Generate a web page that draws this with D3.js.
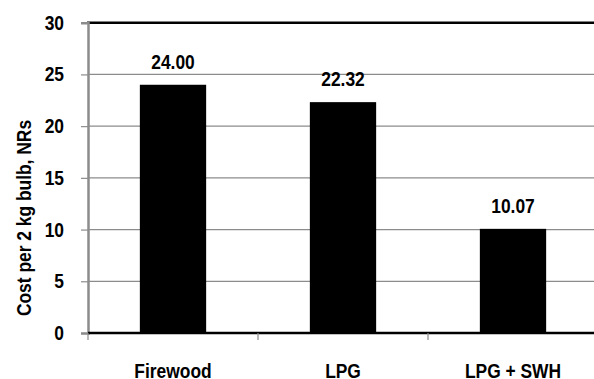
<!DOCTYPE html>
<html><head><meta charset="utf-8">
<script src="https://cdn.jsdelivr.net/npm/d3@7"></script>
<style>body{margin:0;background:#fff}svg{display:block}text{font-family:"Liberation Sans Narrow","Arial Narrow","Liberation Sans",Arial,sans-serif;font-weight:bold;fill:#000}</style>
</head><body><svg id="c" width="594" height="379"></svg>
<script>
const categories = ["Firewood", "LPG", "LPG + SWH"];
const values = [24.00, 22.32, 10.07];
const valueLabels = ["24.00", "22.32", "10.07"];
const yTicks = [0, 5, 10, 15, 20, 25, 30];
const yTitle = "Cost per 2 kg bulb, NRs";

const svg = d3.select("#c");
const L = 88, R = 598, T = 22.7, B = 333;
const SX = 0.87, FS = 20;
const x = d3.scaleBand().domain(categories).range([L, R]).paddingInner(0.61).paddingOuter(0.305);
const xb = d3.scaleBand().domain(categories).range([L, R]);
const y = d3.scaleLinear().domain([0, 30]).range([B, T]);

function label(g, tx, ty, str, anchor, rot) {
  return g.append("text")
    .attr("transform", `translate(${tx},${ty})` + (rot ? ` rotate(${rot})` : "") + ` scale(${SX},1)`)
    .attr("text-anchor", anchor).attr("font-size", FS).text(str);
}

// gridlines
svg.append("g").selectAll("line").data(yTicks.filter(d => d > 0 && d < 30)).join("line")
  .attr("x1", L).attr("x2", 594).attr("y1", d => y(d)).attr("y2", d => y(d))
  .attr("stroke", "#8c8c8c").attr("stroke-width", 1.2);
// top border
svg.append("line").attr("x1", L - 1).attr("x2", 594).attr("y1", y(30)).attr("y2", y(30)).attr("stroke", "#000").attr("stroke-width", 2.5);

// bars
svg.append("g").selectAll("rect").data(values).join("rect")
  .attr("x", (d, i) => x(categories[i])).attr("width", x.bandwidth())
  .attr("y", d => y(d)).attr("height", d => B - y(d)).attr("fill", "#000");

// value labels
const vl = svg.append("g");
values.forEach((d, i) => label(vl, x(categories[i]) + x.bandwidth() / 2, y(d) - 16, valueLabels[i], "middle"));

// y axis
const ya = svg.append("g").attr("transform", `translate(${L},0)`)
  .call(d3.axisLeft(y).tickValues(yTicks).tickSize(7).tickFormat(""));
ya.select(".domain").attr("stroke", "#8c8c8c").attr("stroke-width", 2.5);
ya.selectAll(".tick line").attr("stroke", "#8c8c8c").attr("stroke-width", 1.2);
const yl = svg.append("g");
yTicks.forEach(t => label(yl, 64, y(t) + 7, String(t), "end"));

// x axis
const xa = svg.append("g").attr("transform", `translate(0,${B})`);
xa.append("line").attr("x1", L).attr("x2", 594).attr("stroke", "#000").attr("stroke-width", 2.5);
xa.selectAll(".xt").data(categories.concat(["_end"])).join("line").attr("class", "xt")
  .attr("x1", (d, i) => L + i * xb.bandwidth()).attr("x2", (d, i) => L + i * xb.bandwidth())
  .attr("y1", 0).attr("y2", 7).attr("stroke", "#8c8c8c").attr("stroke-width", 1.2);
categories.forEach(c => label(xa, xb(c) + xb.bandwidth() / 2, 44.5, c, "middle"));

// y title
label(svg, 31, 218, yTitle, "middle", -90);
</script></body></html>
